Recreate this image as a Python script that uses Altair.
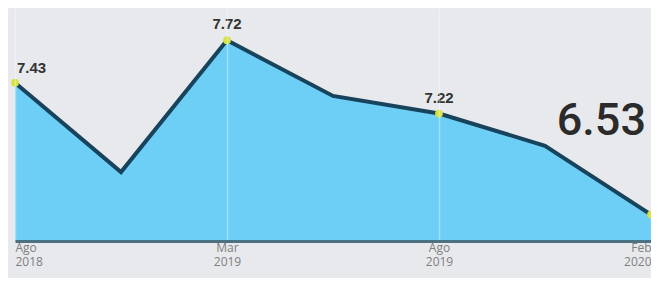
import altair as alt
import pandas as pd

# ---- data ----
steps = [0, 1, 2, 3, 4, 5, 6]
values = [7.43, 6.82, 7.72, 7.34, 7.22, 7.00, 6.53]
marker_steps = [0, 2, 4, 6]
tick_steps = [0, 2, 4, 6]
tick_months = ["Ago", "Mar", "Ago", "Feb"]
tick_years = ["2018", "2019", "2019", "2020"]
left_label_steps = [0]
center_label_steps = [2, 4]
big_label_step = 6
y_min, y_max = 6.35, 7.94

df = pd.DataFrame({"step": steps, "value": values})
df["text"] = [f"{v:.2f}" for v in values]
markers = df[df.step.isin(marker_steps)]
left_lab = df[df.step.isin(left_label_steps)]
center_lab = df[df.step.isin(center_label_steps)]
big_lab = df[df.step == big_label_step]

# label expression built from the lists
expr = "''"
for s, m, yv in reversed(list(zip(tick_steps, tick_months, tick_years))):
    expr = f"datum.value == {s} ? ['{m}', '{yv}'] : ({expr})"

x = alt.X("step:Q",
          scale=alt.Scale(domain=[steps[0], steps[-1]], nice=False, zero=False),
          axis=alt.Axis(values=tick_steps, labelExpr=expr, title=None, ticks=False,
                        grid=True, gridColor="#ffffff", gridOpacity=0.35, gridWidth=1.5,
                        domainColor="#4b7282", domainWidth=3, labelFlush=True,
                        labelColor="#7f7f7f", labelFontSize=12, labelFont="Open Sans",
                        labelLineHeight=14, labelPadding=1, zindex=1))
y = alt.Y("value:Q", scale=alt.Scale(domain=[y_min, y_max], nice=False, zero=False),
          axis=None)

base = alt.Chart(df).encode(x=x, y=y)

area = base.mark_area(color="#6dcff6", opacity=1).encode(y2=alt.datum(y_min))
line = base.mark_line(color="#17435c", strokeWidth=4)
points = alt.Chart(markers).mark_circle(size=60, color="#d5e243", opacity=1).encode(x="step:Q", y="value:Q")

lab1 = alt.Chart(left_lab).mark_text(align="left", baseline="bottom", dx=2, dy=-7,
                                     fontSize=15, fontWeight="bold", color="#333333",
                                     font="Liberation Sans").encode(x="step:Q", y="value:Q", text="text:N")
lab2 = alt.Chart(center_lab).mark_text(align="center", baseline="bottom", dy=-8,
                                       fontSize=15, fontWeight="bold", color="#333333",
                                       font="Liberation Sans").encode(x="step:Q", y="value:Q", text="text:N")
big = alt.Chart(big_lab).mark_text(align="right", baseline="alphabetic", dx=-5, dy=-80,
                                   fontSize=45, fontWeight=500, color="#2b2b2b",
                                   font="Roboto").encode(x="step:Q", y="value:Q", text="text:N")

chart = alt.layer(area, line, points, lab1, lab2, big).properties(
    width=636, height=233,
    autosize=alt.AutoSizeParams(type="none"),
    padding={"left": 7, "top": 0, "right": 0, "bottom": 37},
    background="#e7e9ec",
).configure_view(stroke=None)

chart.save("out.html", embed_options={"renderer": "svg", "actions": False})
